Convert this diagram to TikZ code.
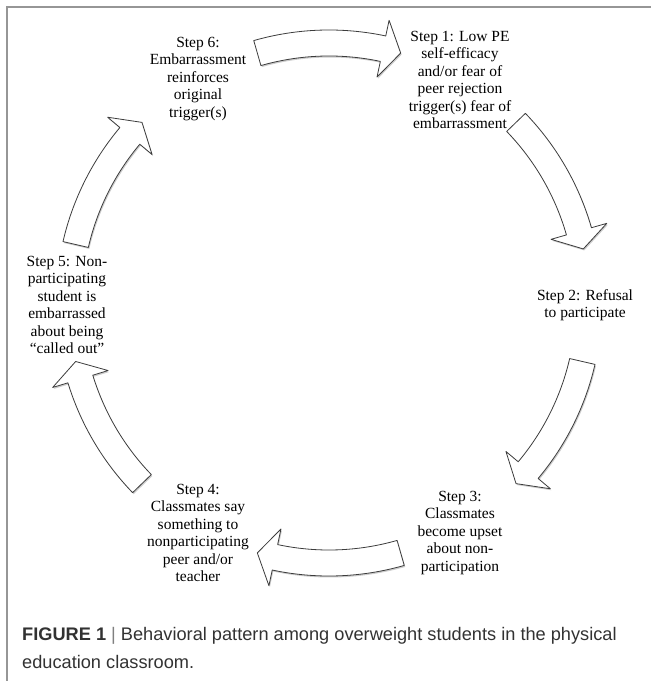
\documentclass[tikz,border=0pt]{standalone}
\usepackage{fontspec}
\setmainfont{Liberation Serif}
\newfontfamily\capfont{Liberation Sans}
\usetikzlibrary{calc}

\definecolor{framegray}{RGB}{150,150,150}
\definecolor{arrowline}{RGB}{60,60,60}
\definecolor{captext}{RGB}{50,50,50}

% radii of the arrow ring (mid, outer, inner, outer barb, inner barb)
\def\rr{260}\def\ro{273}\def\ri{247}\def\rh{289}\def\rhi{231}

% block arrow on the ring, clockwise from #1 to the tip at #2
\newcommand{\arcarrow}[2]{%
  \pgfmathsetmacro{\hb}{#2+4}%
  \draw[cyclearrow] ($(ctr)+(#1:\ro)$) arc[start angle=#1,end angle=\hb,radius=\ro pt]
    -- ($(ctr)+(\hb:\rh)$) -- ($(ctr)+(#2:\rr)$) -- ($(ctr)+(\hb:\rhi)$)
    -- ($(ctr)+(\hb:\ri)$) arc[start angle=\hb,end angle=#1,radius=\ri pt] -- cycle;}

\begin{document}
\begin{tikzpicture}[x=1pt,y=1pt,
  steptext/.style={align=center,inner sep=0pt,font=\fontsize{15.5}{17.5}\selectfont},
  cyclearrow/.style={draw=arrowline,line width=0.8pt,fill=white,line join=round,
    preaction={fill=black,opacity=0.2,transform canvas={shift={(1pt,-1.5pt)}}}},
  caption/.style={align=left,inner sep=0pt,text=captext,
    font=\capfont\fontsize{18.2}{28}\selectfont}
  ]
  \useasboundingbox (0,0) rectangle (651,681);
  \draw[framegray,line width=1.5pt] (7,0) |- (651,674);
  \coordinate (ctr) at (329,378);

  % the six steps
  \node[steptext] (s1) at (460,601) {Step 1: Low PE\\self-efficacy\\and/or fear of\\peer rejection\\trigger(s) fear of\\embarrassment};
  \node[steptext] (s2) at (585,376) {Step 2: Refusal\\to participate};
  \node[steptext] (s3) at (460,148) {Step 3:\\Classmates\\become upset\\about non-\\participation};
  \node[steptext] (s4) at (198,148) {Step 4:\\Classmates say\\something to\\nonparticipating\\peer and/or\\teacher};
  \node[steptext] (s5) at (67,376) {Step 5: Non-\\participating\\student is\\embarrassed\\about being\\“called out”};
  \node[steptext] (s6) at (198,602) {Step 6:\\Embarrassment\\reinforces\\original\\trigger(s)};

  % arrows round the cycle
  \arcarrow{106}{74}
  \arcarrow{44}{12}
  \arcarrow{-13}{-44}
  \arcarrow{-74}{-106}
  \arcarrow{-136}{-167}
  \arcarrow{167}{136}

  \node[caption,anchor=north west] (cap) at (22,54) {\textbf{FIGURE 1} {\color{gray}|} Behavioral pattern among overweight students in the physical\\education classroom.};
\end{tikzpicture}
\end{document}
